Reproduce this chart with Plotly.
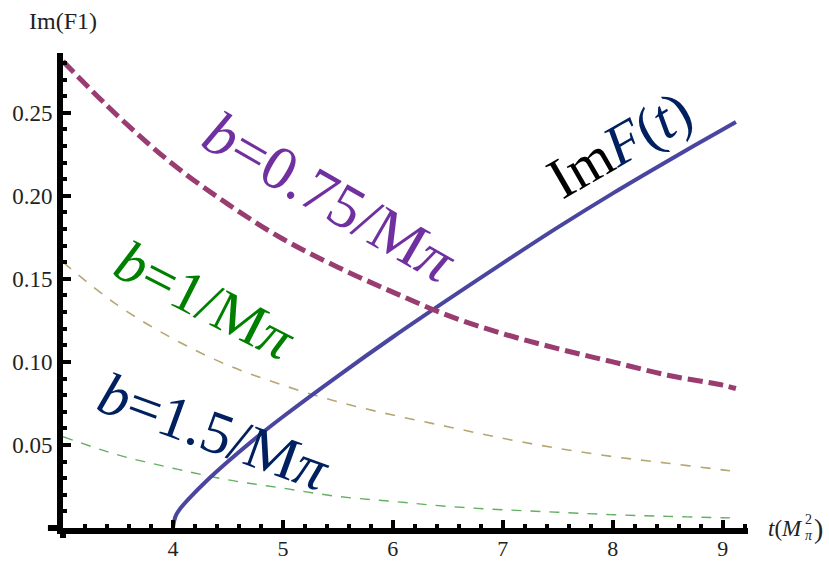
import plotly.graph_objects as go

# ---- data ----
t_grid = [3.0, 3.5, 4.0, 4.5, 5.0, 5.5, 6.0, 6.5, 7.0, 7.5, 8.0, 8.5, 9.0, 9.12]
b075 = [0.281, 0.248, 0.219, 0.195, 0.174, 0.157, 0.142, 0.128, 0.117, 0.108, 0.100, 0.092, 0.086, 0.084]
b100 = [0.160, 0.134, 0.114, 0.098, 0.086, 0.076, 0.068, 0.061, 0.054, 0.048, 0.043, 0.039, 0.035, 0.034]
b150 = [0.055, 0.044, 0.036, 0.029, 0.024, 0.019, 0.016, 0.013, 0.011, 0.0095, 0.008, 0.007, 0.0062, 0.006]

t_imf = [4.0, 4.01, 4.03, 4.07, 4.15, 4.3, 4.5, 4.75, 5.0, 5.5, 6.0, 6.5, 7.0, 7.5, 8.0, 8.5, 9.0, 9.12]
imf = [0.0, 0.004, 0.008, 0.012, 0.018, 0.028, 0.040, 0.054, 0.067, 0.0915, 0.115, 0.1375, 0.1595, 0.181, 0.2015, 0.221, 0.240, 0.2445]

x_ticks = [4, 5, 6, 7, 8, 9]
y_ticks = [0.05, 0.10, 0.15, 0.20, 0.25]
y_tick_text = ["0.05", "0.10", "0.15", "0.20", "0.25"]

SERIF = "'Liberation Serif', 'Times New Roman', Times, serif"

fig = go.Figure()
fig.add_trace(go.Scatter(x=t_grid, y=b150, mode="lines", line=dict(color="#63b063", width=1.4, dash="10px,9px", shape="spline")))
fig.add_trace(go.Scatter(x=t_grid, y=b100, mode="lines", line=dict(color="#b5a672", width=1.6, dash="10px,10px", shape="spline")))
fig.add_trace(go.Scatter(x=t_imf, y=imf, mode="lines", line=dict(color="#4a46a0", width=4, shape="spline", smoothing=0.8)))
fig.add_trace(go.Scatter(x=t_grid, y=b075, mode="lines", line=dict(color="#993d71", width=5, dash="15px,6px", shape="spline")))

X0, X1 = 3.0, 9.23
Y0, Y1 = 0.0, 0.286

fig.update_layout(
    width=829, height=563, autosize=False,
    margin=dict(l=63, r=81, t=53, b=35),
    paper_bgcolor="white", plot_bgcolor="white",
    showlegend=False,
    font=dict(family=SERIF, size=23, color="#222"),
    xaxis=dict(range=[X0, X1], showgrid=False, zeroline=False, automargin=False,
               showline=True, linecolor="black", linewidth=6,
               ticks="inside", ticklen=8, tickwidth=4, tickcolor="black",
               ticklabelstandoff=-4,
               tickvals=x_ticks, tickfont=dict(family=SERIF, size=22, color="#222"),
               minor=dict(ticks="inside", ticklen=4, tickwidth=4, tickcolor="black", dtick=0.2, tick0=3, showgrid=False)),
    yaxis=dict(range=[Y0, Y1], showgrid=False, zeroline=False, automargin=False,
               showline=True, linecolor="black", linewidth=6,
               ticks="inside", ticklen=8, tickwidth=4, tickcolor="black",
               tickvals=y_ticks, ticktext=y_tick_text, tickfont=dict(family=SERIF, size=23, color="#222"),
               minor=dict(ticks="inside", ticklen=4, tickwidth=4, tickcolor="black", dtick=0.01, tick0=0, showgrid=False)),
)

# axis overhangs (Mathematica-style crossing axes)
fig.add_shape(type="line", xref="paper", yref="paper", x0=-0.022, x1=0.0, y0=0, y1=0,
              line=dict(color="black", width=6))
fig.add_shape(type="line", xref="paper", yref="paper", x0=0, x1=0, y0=-0.021, y1=0.0,
              line=dict(color="black", width=6))

# axis labels
fig.add_annotation(xref="paper", yref="paper", x=0.0, y=1.067, text="Im(F1)", showarrow=False,
                   font=dict(family=SERIF, size=24, color="#222"), xanchor="center", yanchor="middle")
fig.add_annotation(xref="paper", yref="paper", x=1.026, y=0.0, text="<i>t</i>(<i>M</i>", showarrow=False,
                   font=dict(family=SERIF, size=23, color="#222"), xanchor="left", yanchor="middle")
fig.add_annotation(xref="paper", yref="paper", x=1.08, y=0.018, text="2", showarrow=False,
                   font=dict(family=SERIF, size=14, color="#222"), xanchor="left", yanchor="middle")
fig.add_annotation(xref="paper", yref="paper", x=1.08, y=-0.016, text="<i>π</i>", showarrow=False,
                   font=dict(family=SERIF, size=14, color="#222"), xanchor="left", yanchor="middle")
fig.add_annotation(xref="paper", yref="paper", x=1.094, y=0.0, text="<span style='font-size:28px'>)</span>", showarrow=False,
                   font=dict(family=SERIF, size=23, color="#222"), xanchor="left", yanchor="middle")

# curve labels
fig.add_annotation(x=5.43, y=0.199, text="<i>b</i>=0.75/M<i>π</i>", showarrow=False, textangle=30,
                   font=dict(family=SERIF, size=62, color="#7030a0"))
fig.add_annotation(x=4.29, y=0.137, text="<i>b</i>=1/M<i>π</i>", showarrow=False, textangle=27,
                   font=dict(family=SERIF, size=59, color="#008000"))
fig.add_annotation(x=4.38, y=0.058, text="<i>b</i>=1.5/M<i>π</i>", showarrow=False, textangle=20,
                   font=dict(family=SERIF, size=60, color="#002060"))
fig.add_annotation(x=8.06, y=0.231, text="Im<span style='color:#002060'><i>F</i>(<i>t</i>)</span>", showarrow=False, textangle=-30,
                   font=dict(family=SERIF, size=58, color="black"))

fig.write_html("out.html")
